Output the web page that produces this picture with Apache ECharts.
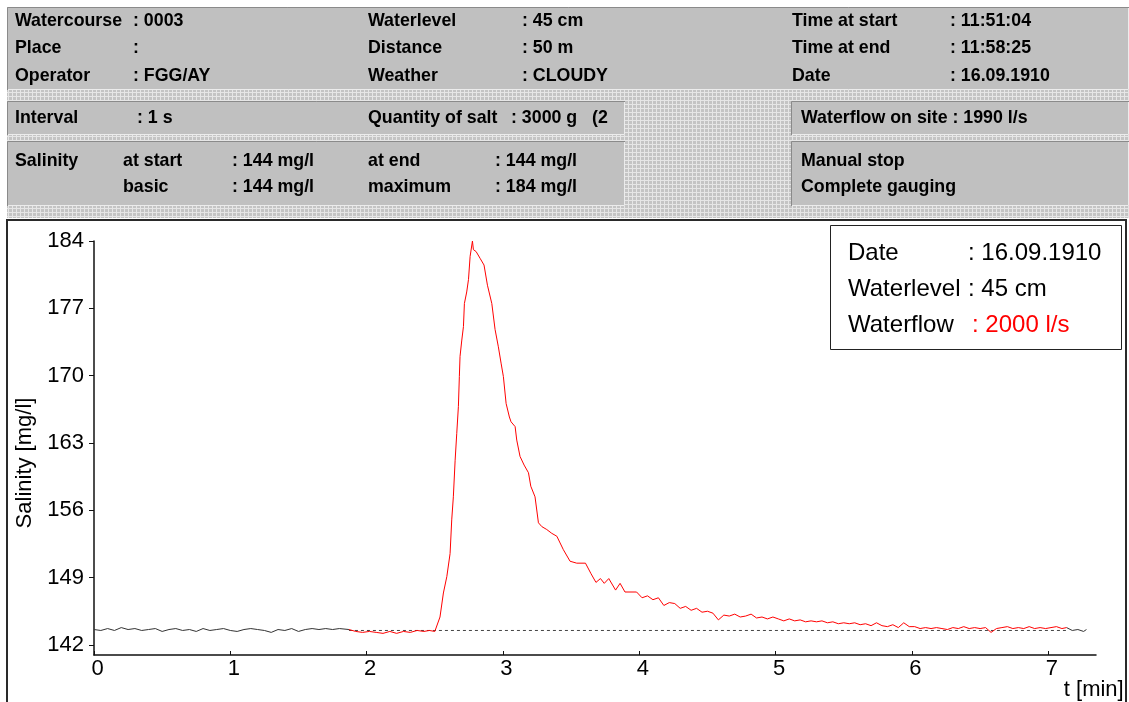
<!DOCTYPE html>
<html><head><meta charset="utf-8">
<script src="https://cdn.jsdelivr.net/npm/echarts@6/dist/echarts.min.js"></script>
<style>html,body{margin:0;padding:0;background:#fff}#c{width:1129px;height:702px}</style>
</head><body><div id="c"></div><script>
// ---------- data ----------
const xTicks = [0, 1, 2, 3, 4, 5, 6, 7];
const yTicks = [142, 149, 156, 163, 170, 177, 184];

const startT = [0.00,0.05,0.10,0.15,0.20,0.25,0.30,0.35,0.40,0.45,0.50,0.55,0.60,0.65,0.70,0.75,0.80,0.85,0.90,0.95,1.00,1.05,1.10,1.15,1.20,1.25,1.30,1.35,1.40,1.45,1.50,1.55,1.60,1.65,1.70,1.75,1.80,1.87];
const startV = [143.6,143.5,143.7,143.5,143.8,143.6,143.7,143.5,143.6,143.7,143.4,143.6,143.7,143.5,143.6,143.4,143.7,143.5,143.6,143.7,143.5,143.4,143.6,143.7,143.6,143.5,143.3,143.6,143.5,143.7,143.4,143.6,143.7,143.6,143.7,143.6,143.7,143.6];

const redT = [1.87,1.92,1.97,2.02,2.07,2.12,2.17,2.22,2.27,2.32,2.37,2.42,2.46,2.50,
  2.538,2.563,2.588,2.612,2.624,2.636,2.649,2.661,2.673,2.680,2.685,2.698,2.710,2.717,2.734,2.747,2.759,2.776,
  2.783,2.803,2.832,2.861,2.886,2.918,2.942,2.966,2.986,3.003,3.023,3.047,3.059,3.089,3.101,3.125,3.155,3.187,
  3.204,3.235,3.260,3.285,3.321,3.358,3.395,3.419,3.443,3.492,3.541,3.605,
  3.646,3.682,3.715,3.743,3.776,3.826,3.859,3.895,3.98,
  4.02,4.06,4.10,4.14,4.18,4.22,4.26,4.30,4.34,4.38,4.42,4.46,4.50,4.54,4.58,4.62,4.66,4.70,4.74,4.78,4.82,4.86,4.90,4.94,4.98,
  5.02,5.06,5.10,5.14,5.18,5.22,5.26,5.30,5.34,5.38,5.42,5.46,5.50,5.54,5.58,5.62,5.66,5.70,5.74,5.78,5.82,5.86,5.90,5.94,5.98,
  6.02,6.06,6.10,6.14,6.18,6.22,6.26,6.30,6.34,6.38,6.42,6.46,6.50,6.54,6.58,6.62,6.66,6.70,6.74,6.78,6.82,6.86,6.90,6.94,6.98,
  7.02,7.06,7.10,7.134];
const redV = [143.6,143.4,143.3,143.4,143.3,143.2,143.4,143.2,143.4,143.3,143.5,143.4,143.5,143.4,
  144.9,147.4,149.1,151.5,155.0,157.4,161.2,164.0,166.8,169.9,172.0,173.7,175.1,177.5,178.7,180.0,182.4,184.0,
  183.1,182.9,182.2,181.5,179.4,177.5,174.8,173.0,171.3,169.9,167.1,165.7,165.2,164.7,163.3,161.6,160.7,159.9,
  158.5,157.4,154.7,154.3,154.0,153.6,153.3,152.6,151.9,150.7,150.5,150.5,
  149.4,148.5,148.9,148.4,148.9,147.7,148.4,147.5,147.5,
  146.9,147.1,146.7,146.9,146.1,146.4,146.3,145.8,146.0,145.6,145.8,145.4,145.5,145.3,144.6,145.1,145.0,145.2,144.9,145.0,145.2,144.8,144.9,144.7,144.9,
  144.7,144.5,144.7,144.5,144.6,144.4,144.5,144.4,144.5,144.3,144.4,144.2,144.3,144.2,144.3,144.1,144.2,144.0,144.3,144.0,143.9,144.1,143.8,144.3,143.9,
  143.9,143.7,143.8,143.7,143.8,143.7,143.6,143.8,143.7,143.9,143.7,143.8,143.7,143.8,143.3,143.7,143.8,143.9,143.7,143.8,143.7,143.9,143.7,143.8,143.7,
  143.8,143.9,143.7,143.8];

const endT = [7.134,7.176,7.217,7.259,7.28];
const endV = [143.8,143.5,143.6,143.4,143.6];

const baseT = [1.87, 7.134];
const baseV = [143.5, 143.5];

const headerRows = [
  ['Watercourse', ': 0003', 'Waterlevel', ': 45 cm', 'Time at start', ': 11:51:04'],
  ['Place', ':', 'Distance', ': 50 m', 'Time at end', ': 11:58:25'],
  ['Operator', ': FGG/AY', 'Weather', ': CLOUDY', 'Date', ': 16.09.1910']
];
const legendRows = [
  ['Date', ': 16.09.1910'],
  ['Waterlevel', ': 45 cm'],
  ['Waterflow', ': 2000 l/s']
];

// ---------- drawing ----------
const pc = document.createElement('canvas');
pc.width = 4; pc.height = 4;
const pg = pc.getContext('2d');
pg.fillStyle = '#c4c4c4'; pg.fillRect(0, 0, 4, 4);
pg.fillStyle = '#e6e6e6'; pg.fillRect(0, 0, 4, 1); pg.fillRect(0, 0, 1, 4);
const pattern = { image: pc, repeat: 'repeat' };

const HF = '"Liberation Sans", Arial, sans-serif';
function htext(x, y, s, extra) {
  return Object.assign({ type: 'text', x: x, y: y, silent: true,
    style: { text: s, fill: '#000', font: 'bold 17.8px ' + HF, textVerticalAlign: 'middle' } }, extra || {});
}
function panel(x1, y1, x2, y2) {
  return [
    { type: 'rect', shape: { x: x1, y: y1, width: x2 - x1, height: y2 - y1 }, style: { fill: '#c0c0c0' } },
    { type: 'polyline', shape: { points: [[x1 + 0.5, y2], [x1 + 0.5, y1 + 0.5], [x2, y1 + 0.5]] }, style: { stroke: '#8a8a8a', lineWidth: 1, fill: null } },
    { type: 'polyline', shape: { points: [[x1 + 1, y2 - 0.5], [x2 - 0.5, y2 - 0.5], [x2 - 0.5, y1 + 1]] }, style: { stroke: '#ececec', lineWidth: 1, fill: null } }
  ];
}

const g = [];
g.push({ type: 'rect', shape: { x: 7, y: 7, width: 1122, height: 211 }, style: { fill: pattern } });
g.push(...panel(7, 7, 1129, 90));
g.push(...panel(7, 101, 625, 135));
g.push(...panel(791, 101, 1129, 135));
g.push(...panel(7, 141, 625, 206));
g.push(...panel(791, 141, 1129, 206));
// chart frame
g.push({ type: 'rect', shape: { x: 7, y: 220, width: 1119, height: 490 }, style: { fill: '#fff', stroke: '#2a2a2a', lineWidth: 2 }, z: -10 });

const rowY = [21, 48, 76];
headerRows.forEach((r, i) => {
  const xs = [15, 133, 368, 522, 792, 950];
  r.forEach((s, j) => g.push(htext(xs[j], rowY[i], s)));
});
g.push(htext(15, 118, 'Interval'));
g.push(htext(137, 118, ': 1 s'));
g.push(htext(368, 118, 'Quantity of salt'));
g.push(htext(511, 118, ': 3000 g   (2'));
g.push(htext(801, 118, 'Waterflow on site : 1990 l/s'));
g.push(htext(15, 161, 'Salinity'));
g.push(htext(123, 161, 'at start'));
g.push(htext(232, 161, ': 144 mg/l'));
g.push(htext(123, 187, 'basic'));
g.push(htext(232, 187, ': 144 mg/l'));
g.push(htext(368, 161, 'at end'));
g.push(htext(495, 161, ': 144 mg/l'));
g.push(htext(368, 187, 'maximum'));
g.push(htext(495, 187, ': 184 mg/l'));
g.push(htext(801, 161, 'Manual stop'));
g.push(htext(801, 187, 'Complete gauging'));

// legend box
g.push({ type: 'rect', shape: { x: 830.5, y: 225.5, width: 291, height: 124 }, style: { fill: '#fff', stroke: '#222', lineWidth: 1 }, z: 50 });
const legY = [253, 289, 325];
legendRows.forEach((r, i) => {
  const col = i === 2 ? '#ff0000' : '#000';
  g.push({ type: 'text', x: 848, y: legY[i], z: 51, silent: true, style: { text: r[0], fill: '#000', font: '24px ' + HF, textVerticalAlign: 'middle' } });
  g.push({ type: 'text', x: i === 2 ? 972 : 968, y: legY[i], z: 51, silent: true, style: { text: r[1], fill: col, font: '24px ' + HF, textVerticalAlign: 'middle' } });
});

const chart = echarts.init(document.getElementById('c'), null, { renderer: 'canvas' });
const toPairs = (ts, vs) => ts.map((t, i) => [t, vs[i]]);
const TF = { color: '#000', fontSize: 22, fontFamily: HF };

chart.setOption({
  animation: false,
  backgroundColor: '#fff',
  graphic: { elements: g },
  grid: { left: 94, right: 33, top: 241, bottom: 47, containLabel: false },
  xAxis: {
    type: 'value', min: 0, max: 7.35,
    axisLine: { show: true, lineStyle: { color: '#111', width: 1.5 } },
    axisTick: { show: true, inside: true, length: 4, customValues: xTicks, lineStyle: { color: '#111' } },
    axisLabel: { customValues: xTicks, margin: 3, padding: [0, 0, 0, 7], ...TF },
    splitLine: { show: false },
    name: 't [min]', nameLocation: 'end', nameGap: 27,
    nameTextStyle: { ...TF, align: 'right', verticalAlign: 'top', padding: [24, 0, 0, 0] }
  },
  yAxis: {
    type: 'value', min: 140.95, max: 184,
    axisLine: { show: true, lineStyle: { color: '#111', width: 1.5 } },
    axisTick: { show: true, length: 5, customValues: yTicks, lineStyle: { color: '#111' } },
    axisLabel: { customValues: yTicks, margin: 10, ...TF },
    splitLine: { show: false },
    name: 'Salinity [mg/l]', nameLocation: 'middle', nameGap: 56, nameRotate: 90,
    nameTextStyle: { ...TF, padding: [0, 30, 0, 0] }
  },
  series: [
    { type: 'line', data: toPairs(baseT, baseV), symbol: 'none', silent: true, z: 1,
      lineStyle: { color: '#444', width: 1, type: [3, 3] } },
    { type: 'line', data: toPairs(startT, startV), symbol: 'none', silent: true, z: 2,
      lineStyle: { color: '#333', width: 1 } },
    { type: 'line', data: toPairs(redT, redV), symbol: 'none', silent: true, z: 3,
      lineStyle: { color: '#ff0000', width: 1 } },
    { type: 'line', data: toPairs(endT, endV), symbol: 'none', silent: true, z: 2,
      lineStyle: { color: '#333', width: 1 } }
  ]
});
</script></body></html>
